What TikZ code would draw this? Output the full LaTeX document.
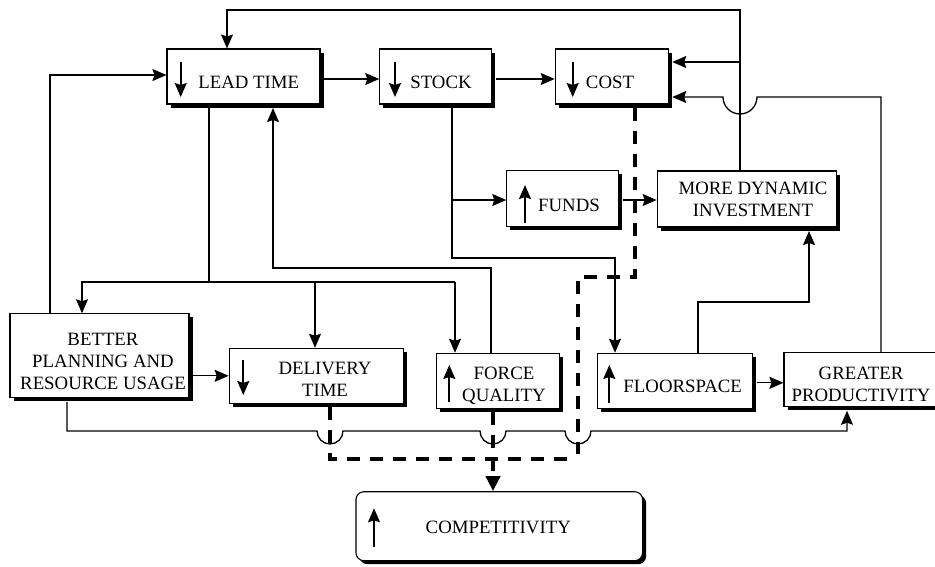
\documentclass[tikz,border=0pt]{standalone}
\usepackage{fontspec}
\setmainfont{Liberation Serif}
\usetikzlibrary{arrows.meta,shadows,calc}
\begin{document}
\begin{tikzpicture}[x=1pt,y=1pt,
  box/.style={draw, line width=1.1pt, fill=white, rectangle, inner sep=0pt,
    drop shadow={shadow xshift=3.5pt,shadow yshift=-3.5pt,fill=black,opacity=1}},
  conn/.style={line width=1.3pt},
  arr/.style={conn, -{Stealth[length=14pt,width=12pt,inset=2pt]}},
  dline/.style={line width=4pt, dash pattern=on 13pt off 10pt},
  ico/.style={line width=1.8pt, -{Stealth[length=14pt,width=12pt,inset=2pt]}},
  txt/.style={font=\fontsize{18.8}{22}\selectfont, align=center, inner sep=0pt}
]
\useasboundingbox (0,0) rectangle (935,-566);

% boxes
\node[box, minimum width=153pt, minimum height=55pt] (LT) at (243.5,-76.5) {};
\node[box, minimum width=112pt, minimum height=55pt] (ST) at (435.8,-76.5) {};
\node[box, minimum width=113pt, minimum height=55pt] (CO) at (611.7,-76.5) {};
\node[box, minimum width=112pt, minimum height=56pt] (FU) at (562.8,-198.7) {};
\node[box, minimum width=179pt, minimum height=56pt] (MDI) at (746.7,-199) {};
\node[box, minimum width=179pt, minimum height=84pt] (BP) at (99.5,-355.8) {};
\node[box, minimum width=174pt, minimum height=55pt] (DT) at (316.2,-375.8) {};
\node[box, minimum width=122.6pt, minimum height=55pt] (FQ) at (498,-380.8) {};
\node[box, minimum width=155pt, minimum height=55pt] (FS) at (675.2,-380.8) {};
\node[box, minimum width=160pt, minimum height=54pt] (GP) at (864,-379.7) {};
\node[box, rounded corners=8pt, minimum width=286.7pt, minimum height=69pt] (COMP) at (499.3,-526.2) {};

% texts
\node[txt] (LTt) at (248.7,-82.5) {LEAD TIME};
\node[txt] (STt) at (441,-82.5) {STOCK};
\node[txt] (COt) at (610,-82.5) {COST};
\node[txt] (FUt) at (569,-205) {FUNDS};
\node[txt] (MDIt) at (753,-199.5) {MORE DYNAMIC\\INVESTMENT};
\node[txt] (BPt) at (103,-361) {BETTER\\PLANNING AND\\RESOURCE USAGE};
\node[txt] (DTt) at (325,-379) {DELIVERY\\TIME};
\node[txt] (FQt) at (504,-385.5) {FORCE\\QUALITY};
\node[txt] (FSt) at (682.7,-386.3) {FLOORSPACE};
\node[txt] (GPt) at (861,-384) {GREATER\\PRODUCTIVITY};
\node[txt] (COMPt) at (498.3,-527.5) {COMPETITIVITY};

% icons inside boxes
\draw[ico] (180.7,-62) -- (180.7,-97);
\draw[ico] (395,-62) -- (395,-97);
\draw[ico] (572.7,-62) -- (572.7,-97);
\draw[ico] (525,-223) -- (525,-185);
\draw[ico] (243.3,-360) -- (243.3,-395);
\draw[ico] (449.3,-401.7) -- (449.3,-365);
\draw[ico] (609.3,-402.7) -- (609.3,-365);
\draw[ico] (374,-547.3) -- (374,-508.3);

% coordinates
\coordinate (k1) at (740,-10);
\coordinate (k2) at (227,-10);
\coordinate (k3) at (740,-62);
\coordinate (k4) at (881,-97);
\coordinate (k5) at (50,-75);
\coordinate (k6) at (209,-282);
\coordinate (k7) at (82,-282);
\coordinate (k8) at (315,-282);
\coordinate (k9) at (455,-282);
\coordinate (k10) at (491,-268);
\coordinate (k11) at (273,-268);
\coordinate (k12) at (452,-258);
\coordinate (k13) at (615,-258);
\coordinate (k14) at (452,-200);
\coordinate (k15) at (698,-302);
\coordinate (k16) at (809,-302);
\coordinate (k17) at (67,-431);
\coordinate (k18) at (847,-431);
\coordinate (d1) at (330,-459);
\coordinate (d2) at (578,-459);
\coordinate (d3) at (493,-459);
\coordinate (d4) at (578,-277);
\coordinate (d5) at (635,-277);

% solid connectors
\draw[arr] (MDI.north -| k1) -- (k1) -- (k2) -- (LT.north -| k2);
\draw[arr] (k3) -- ([xshift=3.5pt]CO.east |- k3);
\draw[arr] (GP.north -| k4) -- (k4) -- (757,-97) arc (0:-180:17pt) -- ([xshift=3.5pt]CO.east |- k4);
\draw[arr] ([xshift=3.5pt,yshift=-2.5pt]LT.east) -- ([yshift=-2.5pt]ST.west);
\draw[arr] ([xshift=3.5pt,yshift=-2.5pt]ST.east) -- ([yshift=-2.5pt]CO.west);
\draw[arr] (BP.north -| k5) -- (k5) -- (LT.west |- k5);
\draw[conn] ([yshift=-3.5pt]LT.south -| k6) -- (k6);
\draw[arr] (k9) -- (k7) -- (BP.north -| k7);
\draw[arr] (k8) -- (DT.north -| k8);
\draw[arr] (k9) -- (FQ.north -| k9);
\draw[arr] (FQ.north -| k10) -- (k10) -- (k11) -- ([yshift=-3.5pt]LT.south -| k11);
\draw[arr] ([yshift=-3.5pt]ST.south -| k12) -- (k12) -- (k13) -- (FS.north -| k13);
\draw[arr] (k14) -- (FU.west |- k14);
\draw[arr] ([xshift=3.5pt]FU.east |- k14) -- (MDI.west |- k14);
\draw[arr] (FS.north -| k15) -- (k15) -- (k16) -- ([yshift=-3.5pt]MDI.south -| k16);
\draw[arr] ([xshift=3.5pt,yshift=-2pt]FS.east) -- ([yshift=-2pt]FS.east -| GP.west);
\draw[arr] ([xshift=3.5pt]BP.east |- DT.west) -- (DT.west);
\draw[arr] ([yshift=-3.5pt]BP.south -| k17) -- (k17) -- (317,-431) arc (180:360:13pt)
   -- (480,-431) arc (180:360:13pt) -- (565,-431) arc (180:360:13pt)
   -- (k18) -- ([yshift=-3.5pt]GP.south -| k18);

% dashed connectors
\draw[dline] ([yshift=-3.5pt]DT.south -| d1) -- (d1) -- ([xshift=-10pt]d2);
\draw[dline] ([yshift=-3.5pt]CO.south -| d5) -- (d5) -- (d4) -- ([yshift=5pt]d2);
\draw[dline, -{Triangle[length=15pt,width=14pt]}] ([yshift=-3.5pt]FQ.south -| d3) -- (COMP.north -| d3);
\end{tikzpicture}
\end{document}
